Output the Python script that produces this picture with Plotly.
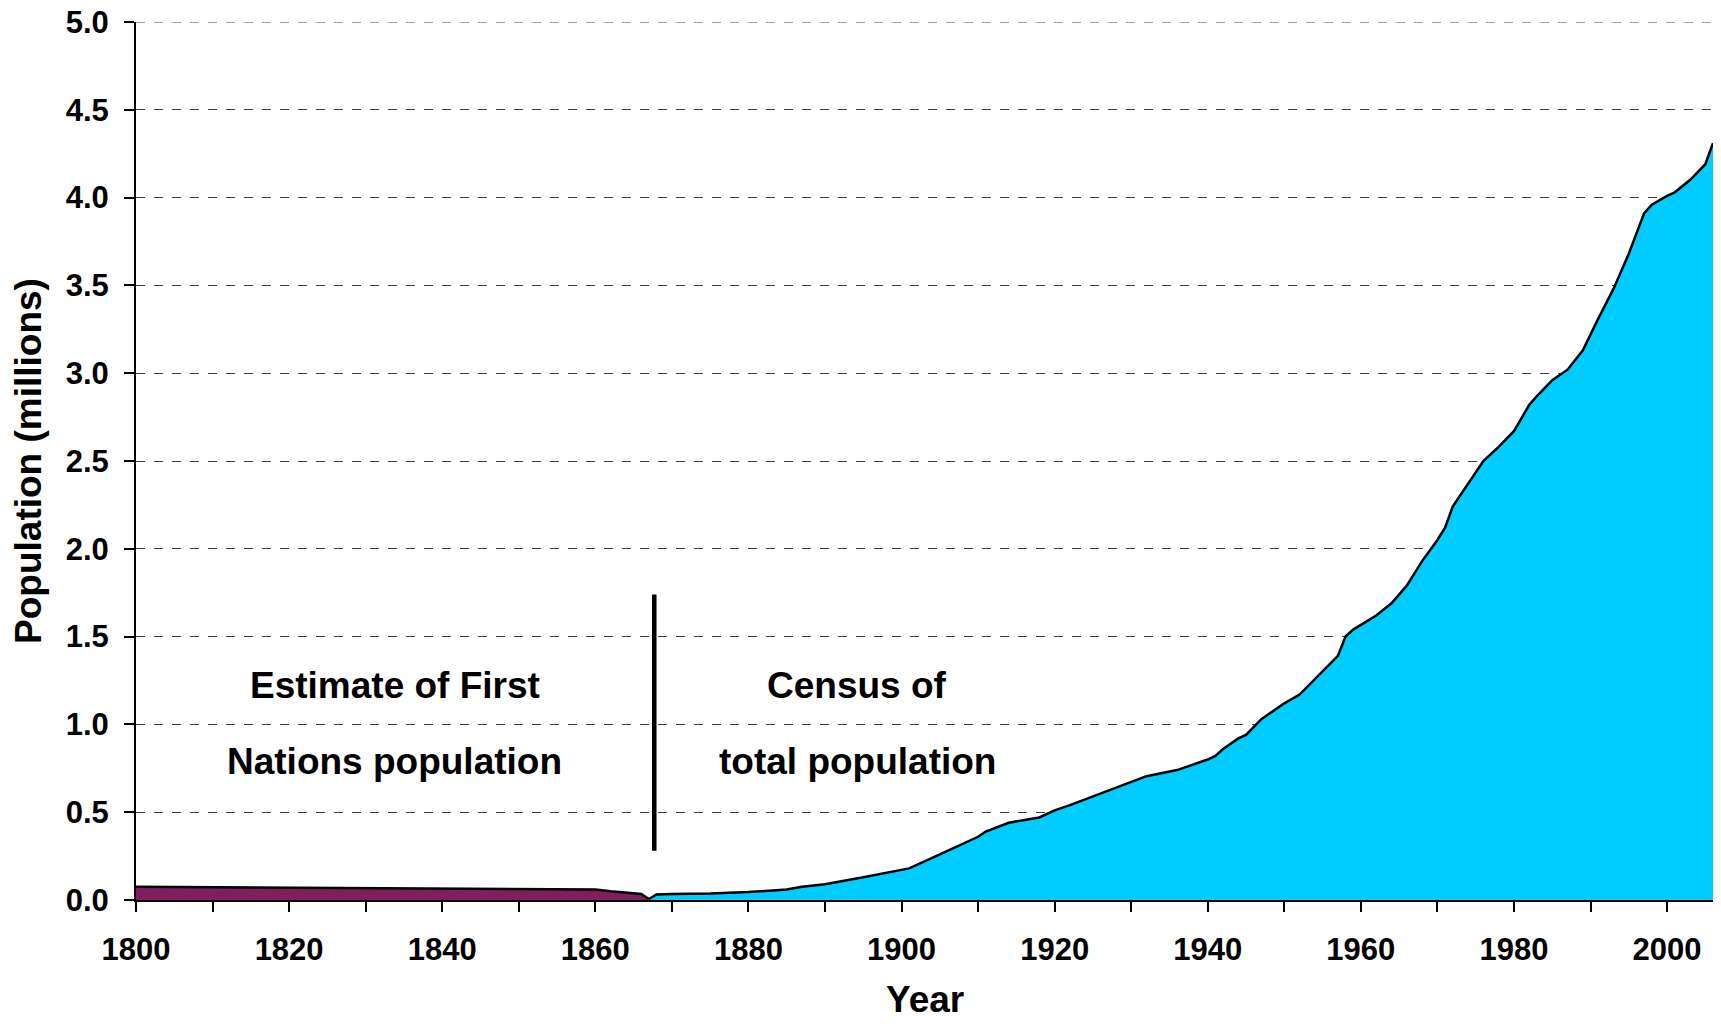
import plotly.graph_objects as go

# First Nations estimate (purple)
fn_years = [1800, 1810, 1820, 1830, 1840, 1850, 1856, 1860, 1862, 1864, 1866, 1867]
fn_values = [0.075, 0.073, 0.071, 0.069, 0.067, 0.064, 0.062, 0.060, 0.050, 0.040, 0.034, 0.006]

# Census of total population (cyan)
census_years = [1867, 1868, 1870, 1875, 1880, 1885, 1887, 1890, 1895, 1900, 1901, 1905, 1907,
                1910, 1911, 1914, 1918, 1920, 1922, 1925, 1930, 1932, 1936, 1940, 1941, 1942,
                1944, 1945, 1947, 1950, 1952, 1955, 1957, 1958, 1959, 1962, 1964, 1966, 1968,
                1970, 1971, 1972, 1974, 1976, 1978, 1980, 1982, 1983, 1985, 1987, 1989, 1991,
                1993, 1995, 1997, 1998, 2000, 2001, 2003, 2005, 2006]
census_values = [0.006, 0.032, 0.034, 0.037, 0.045, 0.06, 0.075, 0.09, 0.13, 0.17, 0.18, 0.26, 0.30,
                 0.36, 0.39, 0.44, 0.47, 0.51, 0.54, 0.59, 0.67, 0.705, 0.74, 0.80, 0.82, 0.86,
                 0.92, 0.94, 1.03, 1.12, 1.17, 1.30, 1.39, 1.50, 1.54, 1.62, 1.69, 1.79, 1.93,
                 2.05, 2.12, 2.24, 2.37, 2.50, 2.58, 2.67, 2.82, 2.87, 2.96, 3.02, 3.13, 3.31,
                 3.48, 3.68, 3.91, 3.96, 4.01, 4.03, 4.10, 4.19, 4.31]

# Axis ticks
y_ticks = [0.0, 0.5, 1.0, 1.5, 2.0, 2.5, 3.0, 3.5, 4.0, 4.5, 5.0]
x_ticks = [1800, 1820, 1840, 1860, 1880, 1900, 1920, 1940, 1960, 1980, 2000]

# Annotation texts and divider
left_label = ["Estimate of First", "Nations population"]
right_label = ["Census of", "total population"]
label_x = [1833.8, 1894.2]
label_y = [1.22, 0.79]
divider_year = 1867.7
divider_range = [0.28, 1.74]
y_max = 5.0
x_title = "Year"
y_title = "Population (millions)"

FONT = "Liberation Sans, Arial, sans-serif"

fig = go.Figure()
fig.add_trace(go.Scatter(x=fn_years, y=fn_values, mode="lines", fill="tozeroy",
                         fillcolor="#801F5F", line=dict(color="black", width=2.5),
                         showlegend=False, hoverinfo="skip"))
fig.add_trace(go.Scatter(x=census_years, y=census_values, mode="lines", fill="tozeroy",
                         fillcolor="#00CCFF", line=dict(color="black", width=2.5),
                         showlegend=False, hoverinfo="skip"))

for i, t in enumerate(left_label):
    fig.add_annotation(x=label_x[0], y=label_y[i], text=t, showarrow=False,
                       font=dict(family=FONT, size=37, color="black", weight="bold"))
for i, t in enumerate(right_label):
    fig.add_annotation(x=label_x[1], y=label_y[i], text=t, showarrow=False,
                       font=dict(family=FONT, size=37, color="black", weight="bold"))

# x-axis title placed as paper annotation below the tick labels
fig.add_annotation(x=0.5, y=0, xref="paper", yref="paper", text=x_title, showarrow=False,
                   yanchor="middle", yshift=-99,
                   font=dict(family=FONT, size=37, color="black", weight="bold"))

fig.add_shape(type="line", x0=divider_year, x1=divider_year, y0=divider_range[0], y1=divider_range[1],
              xref="x", yref="y", line=dict(color="black", width=4.5))
# top gridline at the axis maximum
fig.add_shape(type="line", x0=0, x1=1, xref="paper", y0=y_max, y1=y_max, yref="y",
              line=dict(color="#404040", width=1.2, dash="dash"), layer="below")

fig.update_layout(
    width=1705, height=1008,
    margin=dict(l=128, r=0, t=14, b=116),
    paper_bgcolor="white", plot_bgcolor="white",
    font=dict(family=FONT, color="black"),
)
fig.update_xaxes(
    range=[1800, 2006], tickmode="array", tickvals=x_ticks,
    ticks="outside", ticklen=10, tickcolor="black", tickwidth=1.5,
    minor=dict(dtick=10, tick0=1800, ticks="outside", ticklen=10, tickcolor="black", tickwidth=1.5, showgrid=False),
    showgrid=False, zeroline=False, showline=True, linecolor="black", linewidth=2,
    tickfont=dict(family=FONT, size=31, weight="bold"), ticklabelstandoff=11,
    ticklabeloverflow="allow", automargin=False,
)
fig.update_yaxes(
    range=[0, y_max], tickmode="array", tickvals=y_ticks, tickformat=".1f",
    ticks="outside", ticklen=10, tickcolor="black", tickwidth=1.5,
    showgrid=True, gridcolor="#404040", griddash="dash", gridwidth=1.2,
    zeroline=False, showline=True, mirror=True, linecolor="black", linewidth=2,
    tickfont=dict(family=FONT, size=31, weight="bold"), ticklabelstandoff=9,
    ticklabeloverflow="allow",
    title=dict(text=y_title, font=dict(family=FONT, size=37, weight="bold"), standoff=15),
    automargin=False,
)

fig.write_html("out.html")
